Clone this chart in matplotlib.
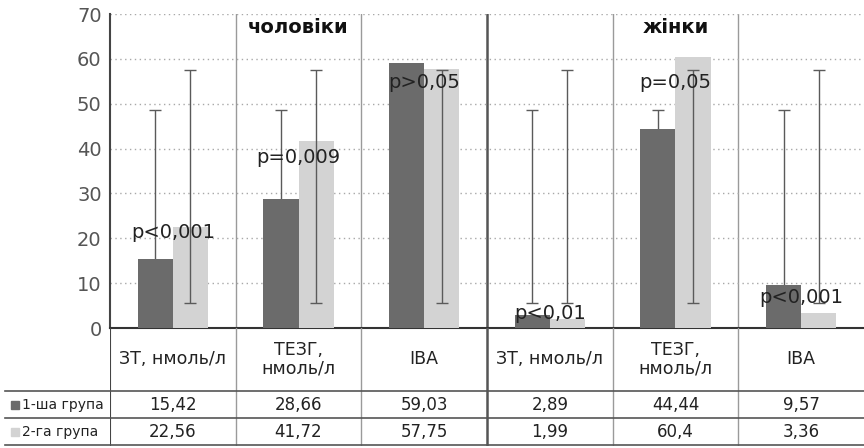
import numpy as np
import matplotlib.pyplot as plt

# дані з таблиці
categories = ['ЗТ, нмоль/л', 'ТЕЗГ,\nнмоль/л', 'IBA', 'ЗТ, нмоль/л', 'ТЕЗГ,\nнмоль/л', 'IBA']
group1 = [15.42, 28.66, 59.03, 2.89, 44.44, 9.57]
group2 = [22.56, 41.72, 57.75, 1.99, 60.4, 3.36]
group1_labels = ['15,42', '28,66', '59,03', '2,89', '44,44', '9,57']
group2_labels = ['22,56', '41,72', '57,75', '1,99', '60,4', '3,36']
err1_low = [5.5, 5.5, 5.5, 5.5, 5.5, 5.5]
err1_high = [48.5, 48.5, 48.5, 48.5, 48.5, 48.5]
err2_low = [5.5, 5.5, 5.5, 5.5, 5.5, 5.5]
err2_high = [57.5, 57.5, 57.5, 57.5, 57.5, 57.5]
p_texts = ['p<0,001', 'p=0,009', 'p>0,05', 'p<0,01', 'p=0,05', 'p<0,001']
p_y = [21.4, 37.9, 54.8, 3.3, 54.8, 6.9]
sections = ['чоловіки', 'жінки']
section_pos = [1, 4]
row_names = ['1-ша група', '2-га група']

dark = '#6b6b6b'
light = '#d3d3d3'
ecol = '#5a5a5a'

fig = plt.figure(figsize=(8.64, 4.48), dpi=100)
ax = fig.add_axes([110 / 864, 120 / 448, 1 - 110 / 864, 314 / 448])
tab = fig.add_axes([110 / 864, 2 / 448, 1 - 110 / 864, 118 / 448])

x = np.arange(len(categories))
w = 0.28

ax.bar(x - w / 2, group1, w, color=dark, zorder=3)
ax.bar(x + w / 2, group2, w, color=light, zorder=3)

# "помилки" як на оригіналі
for xi, lo, hi in zip(x - w / 2, err1_low, err1_high):
    ax.errorbar(xi, (lo + hi) / 2, yerr=(hi - lo) / 2, color=ecol, lw=1,
                capsize=4, capthick=1, zorder=2.5)
for xi, lo, hi in zip(x + w / 2, err2_low, err2_high):
    ax.errorbar(xi, (lo + hi) / 2, yerr=(hi - lo) / 2, color=ecol, lw=1,
                capsize=4, capthick=1, zorder=4)

for xi, t, yy in zip(x, p_texts, p_y):
    ax.text(xi, yy, t, ha='center', va='center', fontsize=14, color='#222222', zorder=5)

for name, pos in zip(sections, section_pos):
    ax.text(pos, 66.9, name, ha='center', va='center', fontsize=14,
            fontweight='bold', color='#111111', zorder=5)

ax.set_xlim(-0.5, 5.5)
ax.set_ylim(0, 70)
ax.set_yticks(np.arange(0, 71, 10))
ax.tick_params(axis='y', length=0, labelsize=14, labelcolor='#555555', pad=6)
ax.set_xticks([])
ax.yaxis.grid(True, linestyle=(0, (1, 2.5)), color='#a8a8a8', lw=1, zorder=0)
for s in ['top', 'right']:
    ax.spines[s].set_visible(False)
ax.spines['left'].set_color('#444444')
ax.spines['left'].set_linewidth(1.5)
ax.spines['bottom'].set_color('#333333')
ax.spines['bottom'].set_linewidth(1.5)

for b in np.arange(0.5, 5, 1):
    lw = 1.8 if b == 2.5 else 1
    c = '#555555' if b == 2.5 else '#9a9a9a'
    ax.axvline(b, color=c, lw=lw, zorder=1)
    tab.axvline(b, color=c, lw=lw)

# таблиця під графіком
tab.set_xlim(-0.5, 5.5)
tab.set_ylim(118, 0)
tab.axis('off')
tab.axvline(-0.5, color='#444444', lw=1.5)
left = -0.5 - 105 / (754 / 6)
for yy in [63, 90, 117]:
    tab.plot([left, 5.5], [yy, yy], color='#555555', lw=1.2, clip_on=False)

for xi, c in zip(x, categories):
    tab.text(xi, 31, c, ha='center', va='center', fontsize=12.5, color='#222222',
             linespacing=1.0)
for xi, a, b in zip(x, group1_labels, group2_labels):
    tab.text(xi, 77, a, ha='center', va='center', fontsize=12, color='#222222')
    tab.text(xi, 104, b, ha='center', va='center', fontsize=12, color='#222222')

for yy, name, col in zip([77, 104], row_names, [dark, light]):
    tab.plot(left + 10 / 125.7, yy, 's', color=col, ms=6, clip_on=False)
    tab.text(left + 17 / 125.7, yy, name, ha='left', va='center', fontsize=10,
             color='#222222', clip_on=False)

fig.savefig('out.png', dpi=100)
